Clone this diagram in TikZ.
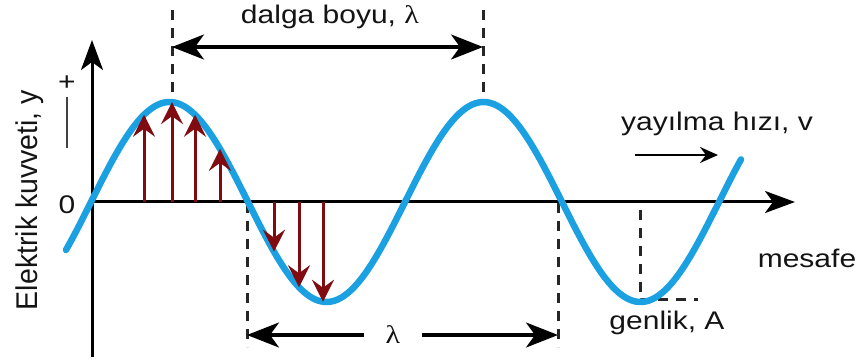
\documentclass[tikz,border=0pt]{standalone}
\usepackage{graphicx}
\usepackage{fontspec}
\setmainfont{Liberation Sans}
\newfontfamily\grkfont{Liberation Serif}
\usepackage{tikz}
\usetikzlibrary{arrows.meta,positioning}
\definecolor{wavebl}{RGB}{27,161,226}
\definecolor{forcered}{RGB}{128,12,18}
\definecolor{txtdark}{RGB}{20,20,20}
\newcommand{\sq}[1]{\scalebox{1}[0.85]{#1}}

\begin{document}
\begin{tikzpicture}[x=1pt, y=-1pt,
  declare function={wy(\x)=202-100*sin((\x-91)/314*360);},
  dimtip/.tip={Stealth[length=32pt, width=25pt, inset=9pt]},
  axis/.style={line width=3pt, -{Stealth[length=30pt, width=22pt, inset=8pt]}},
  wave/.style={line width=6.5pt, wavebl, line cap=round},
  force/.style={line width=3pt, forcered, -{Stealth[length=22pt, width=22pt, inset=8pt]}},
  dim/.style={line width=3.2pt, -dimtip},
  guide/.style={line width=3pt, black!85, dash pattern=on 10pt off 8pt},
  lbl/.style={font=\fontsize{30}{34}\selectfont, text=txtdark, inner sep=0pt}]
  \useasboundingbox (0,0) rectangle (862,363);
  % axes
  \coordinate (o) at (92,202); \coordinate (ytop) at (92,40);
  \coordinate (ybot) at (92,357); \coordinate (xend) at (795,202);
  \draw[axis] (ybot) -- (ytop);
  \draw[axis] (o) -- (xend);
  % guide lines
  \coordinate (p1a) at (172,10); \coordinate (p1) at (172,101);
  \coordinate (p2a) at (483,10); \coordinate (p2) at (483,100);
  \coordinate (z1) at (247,203); \coordinate (z1b) at (247,347);
  \coordinate (z2) at (558,203); \coordinate (z2b) at (558,347);
  \coordinate (t2a) at (640,210); \coordinate (t2) at (640,300); \coordinate (amp) at (698,300);
  \draw[guide] (p1a) -- (p1); \draw[guide] (p2a) -- (p2);
  \draw[guide] (z1) -- (z1b); \draw[guide] (z2) -- (z2b);
  \draw[guide] (t2a) -- (t2) -- (amp);
  % wave
  \draw[wave] plot[domain=66:741, samples=200] (\x,{wy(\x)});
  % field arrows
  \coordinate (f1) at (144,202); \coordinate (g1) at (144,{wy(144)});
  \coordinate (f2) at (172,202); \coordinate (g2) at (172,{wy(172)});
  \coordinate (f3) at (195,202); \coordinate (g3) at (195,{wy(195)});
  \coordinate (f4) at (220,202); \coordinate (g4) at (220,{wy(220)});
  \coordinate (f5) at (274,202); \coordinate (g5) at (274,{wy(274)});
  \coordinate (f6) at (299,202); \coordinate (g6) at (299,{wy(299)});
  \coordinate (f7) at (323,202); \coordinate (g7) at (323,{wy(323)});
  \draw[force] (f1) -- (g1); \draw[force] (f2) -- (g2); \draw[force] (f3) -- (g3); \draw[force] (f4) -- (g4);
  \draw[force] (f5) -- (g5); \draw[force] (f6) -- (g6); \draw[force] (f7) -- (g7);
  % wavelength, top
  \coordinate (d1) at (172,47); \coordinate (d2) at (483,47);
  \draw[dim, dimtip-dimtip] (d1) -- (d2);
  \node[lbl, anchor=base] (dalga) at (330,24) {\sq{dalga boyu, {\grkfont λ}}};
  % wavelength, bottom
  \node[lbl, minimum width=57pt] (lam) at (393,335) {\sq{\grkfont λ}};
  \coordinate (e1) at (247,335); \coordinate (e2) at (558,335);
  \draw[dim] (lam) -- (e1); \draw[dim] (lam) -- (e2);
  % speed
  \coordinate (v1) at (635,155); \coordinate (v2) at (718,155);
  \draw[line width=2.4pt, -{Stealth[length=18pt, width=16pt, inset=6pt]}] (v1) -- (v2);
  \node[lbl, anchor=base] (hiz) at (717,131) {\sq{yayılma hızı, v}};
  % axis texts
  \node[lbl, anchor=base] (mes) at (807,268) {\sq{mesafe}};
  \node[lbl, anchor=base] (gen) at (667,330) {\sq{genlik, A}};
  \node[lbl, anchor=base] (zero) at (67,214) {\sq{0}};
  \node[lbl] (plus) at (67,83) {\sq{+}};
  \coordinate (m1) at (67,97); \coordinate (m2) at (67,148);
  \draw[line width=1.8pt, txtdark!80] (m1) -- (m2);
  \node[lbl, rotate=90, anchor=base] (ylab) at (37,200) {\scalebox{0.95}[1]{Elektrik kuvveti, y}};
\end{tikzpicture}
\end{document}
